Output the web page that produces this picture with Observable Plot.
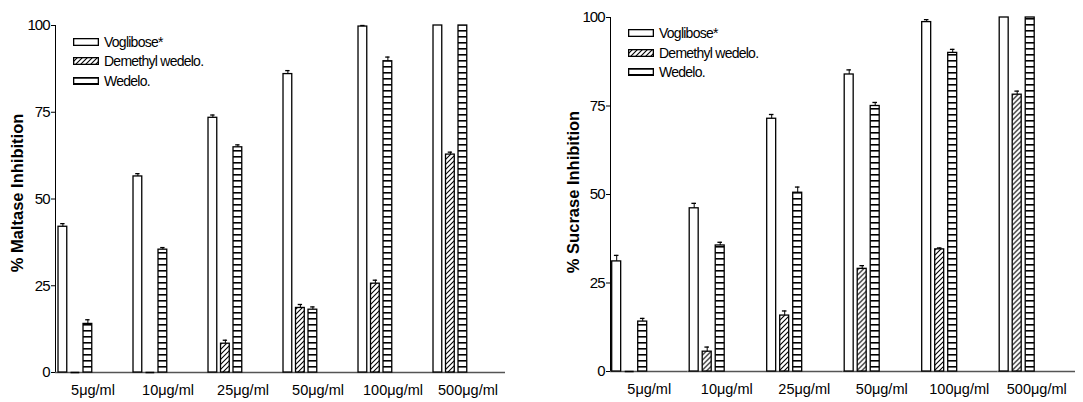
<!DOCTYPE html>
<html>
<head>
<meta charset="utf-8">
<script src="https://cdn.jsdelivr.net/npm/d3@7"></script>
<script src="https://cdn.jsdelivr.net/npm/@observablehq/plot@0.6"></script>
<style>
  body { margin: 0; background: #fff; }
  #wrap { position: relative; width: 1083px; height: 402px; overflow: hidden; font-family: "Liberation Sans", Arial, sans-serif; color: #000; }
  .panel { position: absolute; top: 0; height: 402px; }
  .panel svg { overflow: visible; }
  [aria-label^="y-axis"] text { letter-spacing: -1px; font-size: 15px; }
  .ytitle { position: absolute; font-weight: bold; font-size: 16.5px; white-space: nowrap; transform: translate(-50%, -50%) rotate(-90deg); }
  .legend { position: absolute; font-size: 14px; letter-spacing: -0.75px; }
  .legend .row { display: flex; align-items: center; height: 19.6px; }
  .legend svg { margin-right: 5px; }
</style>
</head>
<body>
<svg width="0" height="0" style="position:absolute">
  <defs>
    <pattern id="hatch" patternUnits="userSpaceOnUse" width="5" height="5">
      <rect width="5" height="5" fill="#fff"/>
      <path d="M-1,1 l2,-2 M0,5 l5,-5 M4,6 l2,-2" stroke="#000" stroke-width="1.1"/>
    </pattern>
    <pattern id="stripes" patternUnits="userSpaceOnUse" width="6" height="6">
      <rect width="6" height="6" fill="#fff"/>
      <rect width="6" height="1.6" fill="#000"/>
    </pattern>
  </defs>
</svg>
<div id="wrap"></div>
<script>
// ---- data ----
const series = ["Voglibose*", "Demethyl wedelo.", "Wedelo."];
const concentrations = ["5μg/ml", "10μg/ml", "25μg/ml", "50μg/ml", "100μg/ml", "500μg/ml"];
const yTicks = [0, 25, 50, 75, 100];

// % Maltase inhibition
const maltaseVoglibose = [42.0, 56.5, 73.4, 86.0, 99.7, 100];
const maltaseVogliboseErr = [0.9, 0.8, 0.8, 1.0, 0.3, 0];
const maltaseDemethyl = [0, 0, 8.3, 18.6, 25.6, 62.8];
const maltaseDemethylErr = [0, 0, 1.0, 1.0, 1.0, 0.7];
const maltaseWedelo = [14.0, 35.4, 64.9, 18.1, 89.7, 100];
const maltaseWedeloErr = [1.2, 0.6, 0.7, 0.8, 1.2, 0];

// % Sucrase inhibition
const sucraseVoglibose = [31.1, 46.1, 71.4, 83.9, 98.7, 100];
const sucraseVogliboseErr = [1.7, 1.4, 1.2, 1.3, 0.7, 0];
const sucraseDemethyl = [0, 5.6, 15.8, 29.0, 34.5, 78.2];
const sucraseDemethylErr = [0, 1.3, 1.3, 0.9, 0.4, 1.0];
const sucraseWedelo = [14.1, 35.6, 50.5, 75.0, 90.0, 100];
const sucraseWedeloErr = [0.9, 0.9, 1.6, 1.0, 1.0, 0];

const seriesFills = ["#fff", "url(#hatch)", "url(#stripes)"];

function buildRows(values, errs) {
  const rows = [];
  concentrations.forEach((c, i) => series.forEach((s, j) => rows.push({conc: c, series: s, value: values[j][i], err: errs[j][i]})));
  return rows;
}

function makeChart(rows, o) {
  return Plot.plot({
    width: o.width, height: 402,
    marginLeft: o.ml, marginRight: o.mr, marginTop: o.mt, marginBottom: o.mb,
    style: {fontFamily: "'Liberation Sans', Arial, sans-serif", fontSize: "14.5px", color: "#000", background: "transparent", overflow: "visible"},
    fx: {domain: concentrations, padding: 0, round: false, axis: "bottom", label: null, tickSize: 0, tickPadding: 12},
    x: {domain: series, axis: null, paddingInner: o.pi, paddingOuter: o.po, align: o.align, round: false},
    y: {domain: [0, 100], ticks: yTicks, tickFormat: d => String(d), tickSize: 4, tickPadding: 2, line: true, label: null},
    color: {domain: series, range: seriesFills},
    marks: [
      Plot.ruleY([0], {stroke: "#555", strokeWidth: 1.3}),
      Plot.barY(rows, {fx: "conc", x: "series", y: "value", fill: "series", stroke: "#000", strokeWidth: 1.3}),
      Plot.tickY(rows, {filter: d => d.value === 0, fx: "conc", x: "series", y: "value", stroke: "#000", strokeWidth: 1.6}),
      Plot.ruleX(rows, {filter: d => d.err > 0, fx: "conc", x: "series", y1: "value", y2: d => d.value + d.err, stroke: "#000", strokeWidth: 1}),
      Plot.tickY(rows, {filter: d => d.err > 0, fx: "conc", x: "series", y: d => d.value + d.err, stroke: "#000", strokeWidth: 1.3, insetLeft: 2.2, insetRight: 2.2})
    ]
  });
}

function legend(left, top) {
  const div = document.createElement("div");
  div.className = "legend";
  div.style.left = left + "px";
  div.style.top = top + "px";
  series.forEach((s, j) => {
    const row = document.createElement("div");
    row.className = "row";
    row.innerHTML = `<svg width="26" height="8"><rect x="0.65" y="0.65" width="24.7" height="6.7" fill="${seriesFills[j]}" stroke="#000" stroke-width="1.3"/></svg><span>${s}</span>`;
    div.appendChild(row);
  });
  return div;
}

function ytitle(text, cx, cy) {
  const d = document.createElement("div");
  d.className = "ytitle";
  d.textContent = text;
  d.style.left = cx + "px";
  d.style.top = cy + "px";
  return d;
}

const wrap = document.getElementById("wrap");

const left = document.createElement("div");
left.className = "panel"; left.style.left = "0px"; left.style.width = "540px";
left.appendChild(makeChart(
  buildRows([maltaseVoglibose, maltaseDemethyl, maltaseWedelo], [maltaseVogliboseErr, maltaseDemethylErr, maltaseWedeloErr]),
  {width: 540, ml: 55, mr: 35, mt: 25, mb: 30, pi: 0.3, po: 1.65, align: 0.073}
));
wrap.appendChild(left);

const right = document.createElement("div");
right.className = "panel"; right.style.left = "540px"; right.style.width = "543px";
right.appendChild(makeChart(
  buildRows([sucraseVoglibose, sucraseDemethyl, sucraseWedelo], [sucraseVogliboseErr, sucraseDemethylErr, sucraseWedeloErr]),
  {width: 543, ml: 70, mr: 8, mt: 17, mb: 31, pi: 0.31, po: 1.634, align: 0.04}
));
wrap.appendChild(right);

wrap.appendChild(legend(73, 32));
wrap.appendChild(legend(628, 23.5));
wrap.appendChild(ytitle("% Maltase Inhibition", 17, 193));
wrap.appendChild(ytitle("% Sucrase Inhibition", 573, 192));
</script>
</body>
</html>
